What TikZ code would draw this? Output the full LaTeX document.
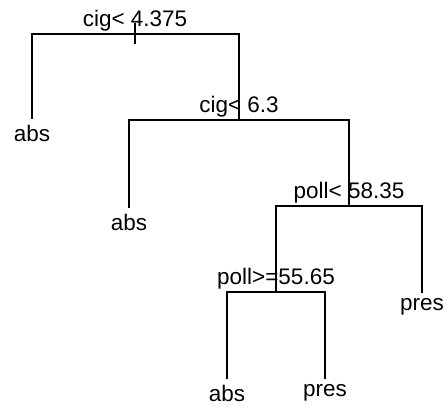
\documentclass[tikz,border=0pt]{standalone}
\usepackage{fontspec}
\setmainfont{Liberation Sans}
\begin{document}
\begin{tikzpicture}[x=1pt,y=1pt,
  edge/.style={line width=1.2pt, line cap=rect},
  lbl/.style={font=\fontsize{22.5}{27}\selectfont, inner sep=0pt, anchor=base}]
\useasboundingbox (0,0) rectangle (448,408);
% tree coordinates
\coordinate (t1) at (135,384);
\coordinate (b1) at (135,365);
\coordinate (l1) at (32,374);
\coordinate (r1) at (239,374);
\coordinate (a1) at (32,290);
\coordinate (n2) at (239,288);
\coordinate (l2) at (129,288);
\coordinate (r2) at (349,288);
\coordinate (a2) at (129,201);
\coordinate (n3) at (349,202);
\coordinate (l3) at (276,202);
\coordinate (r3) at (422,202);
\coordinate (p3) at (422,116);
\coordinate (n4) at (276,116);
\coordinate (l4) at (227,116);
\coordinate (r4) at (325,116);
\coordinate (a4) at (227,30);
\coordinate (p4) at (325,30);
% edges
\draw[edge] (t1) -- (b1);
\draw[edge] (a1) -- (l1) -- (r1) -- (n2);
\draw[edge] (a2) -- (l2) -- (r2) -- (n3);
\draw[edge] (l3) -- (r3) -- (p3);
\draw[edge] (l3) -- (n4);
\draw[edge] (a4) -- (l4) -- (r4) -- (p4);
% split labels
\node[lbl] (s1) at (135,381) {cig< 4.375};
\node[lbl] (s2) at (239,295) {cig< 6.3};
\node[lbl] (s3) at (349,209) {poll< 58.35};
\node[lbl] (s4) at (276,124) {poll>=55.65};
% leaf labels
\node[lbl] (la1) at (32,266.5) {abs};
\node[lbl] (la2) at (129,177.5) {abs};
\node[lbl] (lp3) at (422,97.5) {pres};
\node[lbl] (la4) at (227,6.3) {abs};
\node[lbl] (lp4) at (325,11.3) {pres};
\end{tikzpicture}
\end{document}
